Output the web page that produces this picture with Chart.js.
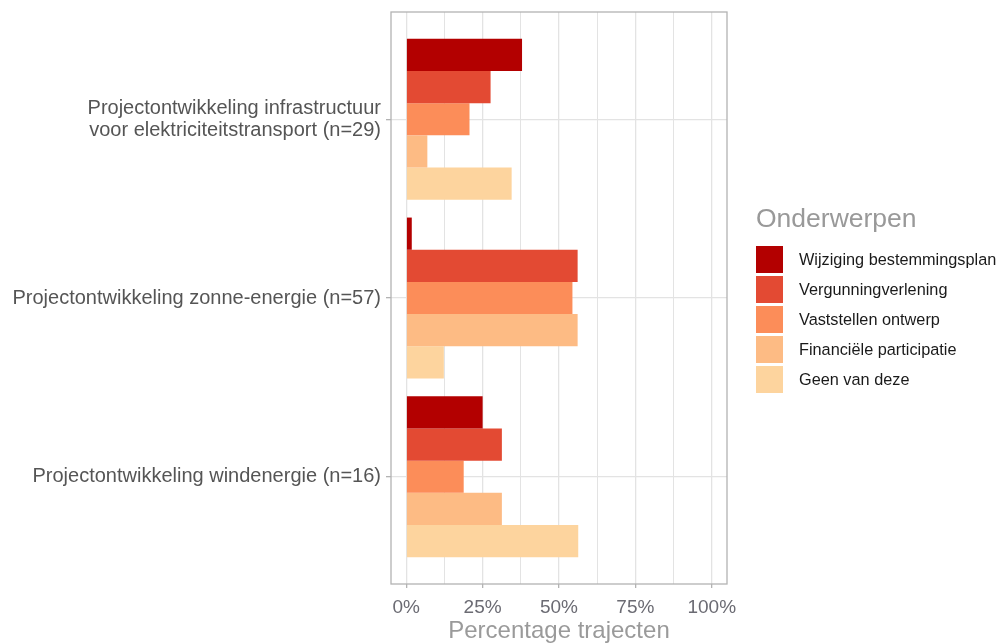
<!DOCTYPE html>
<html>
<head>
<meta charset="utf-8">
<script src="https://cdn.jsdelivr.net/npm/chart.js@4/dist/chart.umd.min.js"></script>
<style>
  html, body { margin: 0; padding: 0; background: #fff; }
  #wrap { position: relative; width: 1001px; height: 643px; }
  #legend { position: absolute; left: 756px; top: 203px; font-family: "Liberation Sans", Arial, sans-serif; }
  #legend .title { font-size: 26.5px; color: #999; line-height: 30px; margin-bottom: 11px; }
  #legend .row { display: flex; align-items: center; height: 30px; }
  #legend .box { width: 27px; height: 27px; margin-right: 16px; }
  #legend .lbl { font-size: 16.3px; color: #1a1a1a; }
</style>
</head>
<body>
<div id="wrap">
  <canvas id="chart" width="1001" height="643"></canvas>
  <div id="legend"></div>
</div>
<script>
// categories (top to bottom), labels with line breaks as in the original
const categories = [
    ['Projectontwikkeling infrastructuur', 'voor elektriciteitstransport (n=29)'],
    'Projectontwikkeling zonne-energie (n=57)',
    'Projectontwikkeling windenergie (n=16)'
];

// legend / series names
const onderwerpen = [
    'Wijziging bestemmingsplan',
    'Vergunningverlening',
    'Vaststellen ontwerp',
    'Financiële participatie',
    'Geen van deze'
];

// percentages per category, one array per onderwerp
const wijziging = [37.9, 1.8, 25.0];
const vergunning = [27.6, 56.1, 31.3];
const vaststellen = [20.7, 54.4, 18.8];
const financieel = [6.9, 56.1, 31.3];
const geen = [34.5, 12.3, 56.3];

const colors = ['#B30000', '#E34A33', '#FC8D59', '#FDBB84', '#FDD49E'];

// x axis ticks: labelled majors every 25, minor lines in between
const xTicks = [0, 12.5, 25, 37.5, 50, 62.5, 75, 87.5, 100];

const seriesValues = [wijziging, vergunning, vaststellen, financieel, geen];

//panel border drawn on top like ggplot's theme_light
const panelBorder = {
    id: 'panelBorder',
    afterDatasetsDraw(chart) {
        const a = chart.chartArea;
        const c = chart.ctx;
        c.save();
        c.strokeStyle = '#B3B3B3';
        c.lineWidth = 1.3;
        c.strokeRect(a.left, a.top, a.right - a.left, a.bottom - a.top);
        c.restore();
    }
};

const ctx = document.getElementById('chart').getContext('2d');
const myChart = new Chart(ctx, {
    type: 'bar',
    data: {
        datasets: seriesValues.map((vals, i) => ({
            label: onderwerpen[i],
            data: vals.map((v, j) => ({x: v, y: j})),
            backgroundColor: colors[i],
            borderWidth: 0,
            categoryPercentage: 0.9,
            barPercentage: 1
        }))
    },
    options: {
        indexAxis: 'y',
        responsive: false,
        animation: false,
        layout: { padding: { top: 12, right: 274, left: 0, bottom: 0 } },
        plugins: {
            legend: { display: false },
            tooltip: { enabled: false }
        },
        scales: {
            x: {
                type: 'linear',
                min: -5,
                max: 105,
                afterBuildTicks: (s) => { s.ticks = xTicks.map(v => ({value: v})); },
                afterFit: (s) => { s.height = 59; },
                border: { display: false },
                grid: {
                    color: '#E3E3E3',
                    lineWidth: (c) => (c.tick && c.tick.value % 25 === 0) ? 1.3 : 1,
                    tickLength: 4,
                    tickColor: (c) => (c.tick && c.tick.value % 25 === 0) ? '#B3B3B3' : 'rgba(0,0,0,0)'
                },
                ticks: {
                    autoSkip: false,
                    maxRotation: 0,
                    padding: 8,
                    color: '#6B6B73',
                    font: { family: 'Liberation Sans', size: 19 },
                    callback: (v) => v % 25 === 0 ? v + '%' : ''
                },
                title: {
                    display: true,
                    text: 'Percentage trajecten',
                    color: '#9A9A9A',
                    font: { family: 'Liberation Sans', size: 24, lineHeight: 1 },
                    padding: { top: 0, bottom: 0 }
                }
            },
            y: {
                type: 'linear',
                reverse: true,
                offset: false,
                min: -0.6,
                max: 2.6,
                afterBuildTicks: (s) => { s.ticks = categories.map((c, i) => ({value: i})); },
                afterFit: (s) => { s.width = 391; s.paddingTop = 0; s.paddingBottom = 0; },
                border: { display: false },
                grid: {
                    offset: false,
                    color: '#E3E3E3',
                    lineWidth: 1.3,
                    tickLength: 5,
                    tickColor: '#B3B3B3'
                },
                ticks: {
                    autoSkip: false,
                    padding: 5,
                    color: '#555555',
                    font: { family: 'Liberation Sans', size: 20, lineHeight: 1.1 },
                    callback: (v) => categories[v]
                }
            }
        }
    },
    plugins: [panelBorder]
});

//simple html legend built from the same arrays
const legend = document.getElementById('legend');
let html = '<div class="title">Onderwerpen</div>';
onderwerpen.forEach((name, i) => {
    html += '<div class="row"><div class="box" style="background:' + colors[i] + '"></div><div class="lbl">' + name + '</div></div>';
});
legend.innerHTML = html;
</script>
</body>
</html>
